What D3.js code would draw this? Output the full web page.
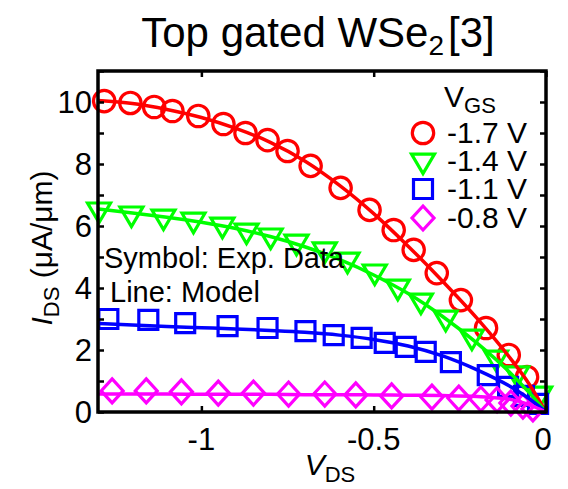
<!DOCTYPE html>
<html>
<head>
<meta charset="utf-8">
<script src="https://cdn.jsdelivr.net/npm/d3@7/dist/d3.min.js"></script>
<style>
  html, body { margin: 0; padding: 0; background: #fff; }
  svg { display: block; }
  text { font-family: "Liberation Sans", Arial, sans-serif; fill: #000; }
</style>
</head>
<body>
<svg id="chart" width="568" height="489"></svg>
<script>
// Drain voltage ticks and current ticks
const xTicks = [-1, -0.5, 0];
const xTickLabels = ["-1", "-0.5", "0"];
const yTicks = [0, 2, 4, 6, 8, 10];
const yMinorTicks = [0, 1, 2, 3, 4, 5, 6, 7, 8, 9, 10, 11];

// Gate voltages (legend)
const vgsLabels = ["-1.7 V", "-1.4 V", "-1.1 V", "-0.8 V"];
const colors = ["#ff0000", "#00ff00", "#0000ff", "#ff00ff"];
const symbols = ["circle", "triangle", "square", "diamond"];

// Measured data (symbols): V_DS (V), I_DS (uA/um)
const expVds17 = [-1.282, -1.206, -1.137, -1.084, -1.009, -0.936, -0.872, -0.808, -0.750, -0.683, -0.596, -0.512, -0.442, -0.384, -0.317, -0.247, -0.174, -0.108, -0.055];
const expIds17 = [10.03, 9.97, 9.84, 9.71, 9.55, 9.29, 9.00, 8.77, 8.42, 7.94, 7.23, 6.52, 5.87, 5.23, 4.48, 3.61, 2.71, 1.84, 1.13];

const expVds14 = [-1.297, -1.203, -1.110, -1.023, -0.939, -0.869, -0.799, -0.724, -0.642, -0.576, -0.497, -0.430, -0.363, -0.291, -0.215, -0.145, -0.084, -0.017];
const expIds14 = [6.52, 6.39, 6.29, 6.19, 6.03, 5.84, 5.68, 5.48, 5.23, 4.90, 4.52, 4.03, 3.58, 3.03, 2.42, 1.74, 1.23, 0.58];

const expVds11 = [-1.270, -1.154, -1.047, -0.924, -0.808, -0.698, -0.616, -0.535, -0.468, -0.407, -0.349, -0.276, -0.169, -0.110, -0.064, -0.023];
const expIds11 = [3.00, 2.97, 2.87, 2.77, 2.71, 2.61, 2.48, 2.39, 2.23, 2.10, 1.94, 1.61, 1.19, 0.81, 0.52, 0.26];

const expVds08 = [-1.259, -1.160, -1.058, -0.951, -0.849, -0.747, -0.642, -0.552, -0.448, -0.331, -0.253, -0.189, -0.142, -0.102, -0.067, -0.038];
const expIds08 = [0.68, 0.68, 0.65, 0.61, 0.61, 0.58, 0.58, 0.55, 0.52, 0.48, 0.45, 0.42, 0.39, 0.29, 0.19, 0.10];

// Model curves (lines)
const modelVds = [-1.3, -1.2, -1.1, -1.0, -0.9, -0.8, -0.7, -0.6, -0.5, -0.4, -0.3, -0.2, -0.1, -0.05, 0];
const modelIds17 = [10.05, 9.95, 9.76, 9.50, 9.15, 8.70, 8.10, 7.32, 6.40, 5.35, 4.22, 3.02, 1.68, 0.92, 0];
const modelIds14 = [6.55, 6.42, 6.28, 6.12, 5.92, 5.66, 5.33, 4.92, 4.42, 3.82, 3.08, 2.22, 1.22, 0.64, 0];
const modelIds11 = [2.86, 2.81, 2.76, 2.72, 2.68, 2.63, 2.57, 2.48, 2.34, 2.13, 1.81, 1.36, 0.80, 0.44, 0];
const modelIds08 = [0.58, 0.58, 0.58, 0.57, 0.57, 0.57, 0.56, 0.56, 0.55, 0.54, 0.53, 0.50, 0.40, 0.24, 0];

const series = [
  { vds: expVds17, ids: expIds17, model: modelIds17 },
  { vds: expVds14, ids: expIds14, model: modelIds14 },
  { vds: expVds11, ids: expIds11, model: modelIds11 },
  { vds: expVds08, ids: expIds08, model: modelIds08 }
];

const svg = d3.select("#chart");
const mLeft = 98, mRight = 546, mTop = 71, mBottom = 412;

const x = d3.scaleLinear().domain([-1.3, 0]).range([mLeft, mRight]);
const y = d3.scaleLinear().domain([0, 11]).range([mBottom, mTop]);

// Marker shape paths centred on (0,0)
function markerPath(kind) {
  if (kind === "circle") return d3.symbol(d3.symbolCircle, 360)();
  if (kind === "triangle") {
    const s = 11.5;
    return `M${-s},${-s * 0.6}L${s},${-s * 0.6}L0,${s * 1.1}Z`;
  }
  if (kind === "square") {
    const h = 9.5;
    return `M${-h},${-h}H${h}V${h}H${-h}Z`;
  }
  const w = 11, hh = 12;
  return `M0,${-hh}L${w},0L0,${hh}L${-w},0Z`;
}

const plot = svg.append("g");

// Markers
series.forEach((s, i) => {
  plot.append("g")
    .selectAll("path")
    .data(s.vds.map((v, k) => [v, s.ids[k]]))
    .join("path")
    .attr("d", markerPath(symbols[i]))
    .attr("transform", d => `translate(${x(d[0])},${y(d[1])})`)
    .attr("fill", "none")
    .attr("stroke", colors[i])
    .attr("stroke-width", 3.2);
});

// Model lines
const line = d3.line()
  .x(d => x(d[0]))
  .y(d => y(d[1]))
  .curve(d3.curveMonotoneX);

series.forEach((s, i) => {
  plot.append("path")
    .datum(modelVds.map((v, k) => [v, s.model[k]]))
    .attr("d", line)
    .attr("fill", "none")
    .attr("stroke", colors[i])
    .attr("stroke-width", 3.5)
    .attr("stroke-linejoin", "round");
});

// Frame with inward ticks on all sides
const axes = svg.append("g");
const tickLen = 6;
axes.append("g").attr("transform", `translate(0,${mBottom})`)
  .call(d3.axisTop(x).tickValues(xTicks).tickSize(tickLen).tickFormat(""))
  .call(g => g.select(".domain").remove());
axes.append("g").attr("transform", `translate(0,${mTop})`)
  .call(d3.axisBottom(x).tickValues(xTicks).tickSize(tickLen).tickFormat(""))
  .call(g => g.select(".domain").remove());
axes.append("g").attr("transform", `translate(${mLeft},0)`)
  .call(d3.axisRight(y).tickValues(yMinorTicks).tickSize(tickLen).tickFormat(""))
  .call(g => g.select(".domain").remove());
axes.append("g").attr("transform", `translate(${mRight},0)`)
  .call(d3.axisLeft(y).tickValues(yMinorTicks).tickSize(tickLen).tickFormat(""))
  .call(g => g.select(".domain").remove());
axes.selectAll(".tick line").attr("stroke", "#000").attr("stroke-width", 2.5);

axes.append("rect")
  .attr("x", mLeft).attr("y", mTop)
  .attr("width", mRight - mLeft).attr("height", mBottom - mTop)
  .attr("fill", "none").attr("stroke", "#000").attr("stroke-width", 3.5);

// Tick labels
svg.append("g").selectAll("text")
  .data(yTicks).join("text")
  .attr("x", mLeft - 6)
  .attr("y", d => y(d) + 11)
  .attr("text-anchor", "end")
  .attr("font-size", 31)
  .text(d => d);

svg.append("g").selectAll("text")
  .data(xTicks).join("text")
  .attr("x", (d, i) => x(d) + (i === 2 ? -3 : 0))
  .attr("y", 450)
  .attr("text-anchor", "middle")
  .attr("font-size", 31)
  .text((d, i) => xTickLabels[i]);

// Title
const title = svg.append("text")
  .attr("x", 318).attr("y", 47)
  .attr("text-anchor", "middle")
  .attr("font-size", 42);
title.append("tspan").text("Top gated WSe");
title.append("tspan").attr("font-size", 28).attr("dy", 8).text("2");
title.append("tspan").attr("dy", -8).attr("dx", 4).text("[3]");

// Axis labels
const xl = svg.append("text")
  .attr("x", 330).attr("y", 475)
  .attr("text-anchor", "middle")
  .attr("font-size", 30);
xl.append("tspan").attr("font-style", "italic").text("V");
xl.append("tspan").attr("font-size", 22).attr("dy", 7).text("DS");

const yl = svg.append("text")
  .attr("transform", "translate(52,248) rotate(-90)")
  .attr("text-anchor", "middle")
  .attr("font-size", 30);
yl.append("tspan").attr("font-style", "italic").text("I");
yl.append("tspan").attr("font-size", 22).attr("dy", 7).text("DS");
yl.append("tspan").attr("dy", -7).text(" (μA/μm)");

// Annotations
svg.append("text").attr("x", 104).attr("y", 268).attr("font-size", 29).text("Symbol: Exp. Data");
svg.append("text").attr("x", 110).attr("y", 302).attr("font-size", 29).text("Line: Model");

// Legend
const lg = svg.append("text").attr("x", 444).attr("y", 107).attr("font-size", 30);
lg.append("tspan").text("V");
lg.append("tspan").attr("font-size", 22).attr("dy", 6).text("GS");

const legendY = [133, 161, 189, 218];
vgsLabels.forEach((lab, i) => {
  svg.append("path")
    .attr("d", markerPath(symbols[i]))
    .attr("transform", `translate(423,${legendY[i]})`)
    .attr("fill", "none")
    .attr("stroke", colors[i])
    .attr("stroke-width", 3.2);
  svg.append("text")
    .attr("x", 447).attr("y", legendY[i] + 10)
    .attr("font-size", 30)
    .text(lab);
});
</script>
</body>
</html>
